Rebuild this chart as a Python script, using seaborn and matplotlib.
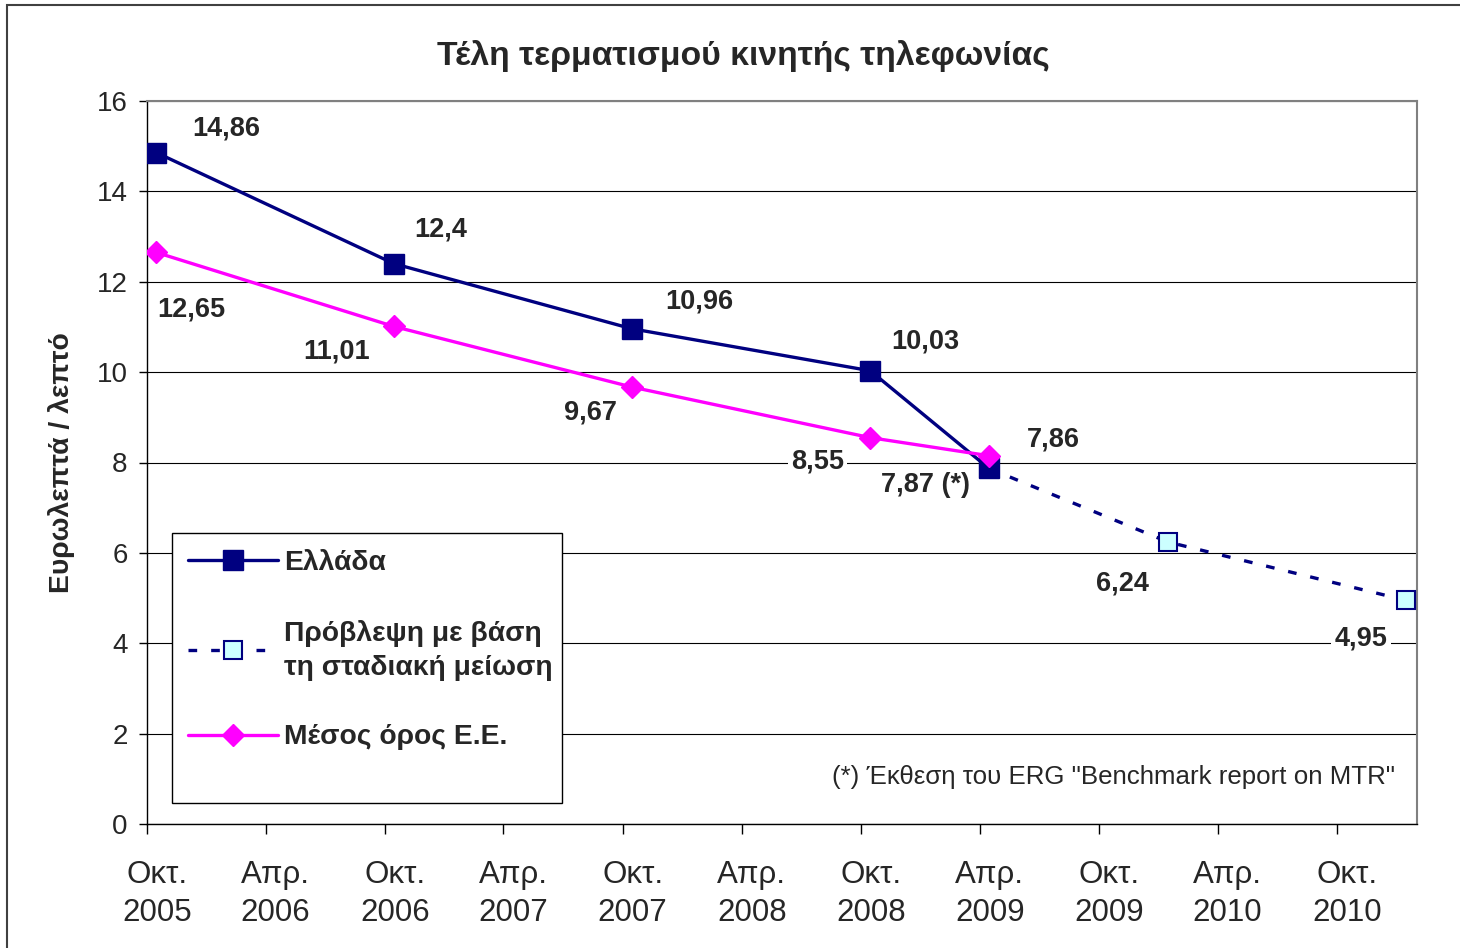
import pandas as pd
import matplotlib
matplotlib.use("Agg")
import matplotlib.pyplot as plt
import matplotlib.dates as mdates
from matplotlib.patches import Rectangle
from matplotlib.transforms import ScaledTranslation
import seaborn as sns

TITLE = "Τέλη τερματισμού κινητής τηλεφωνίας"
Y_LABEL = "Ευρωλεπτά / λεπτό"
NOTE = '(*) Έκθεση του ERG "Benchmark report on MTR"'

# Greece (actual)
GR_NAME = "Ελλάδα"
GR_DATES = ["2005-10-15", "2006-10-15", "2007-10-15", "2008-10-15", "2009-04-15"]
GR_VALUES = [14.86, 12.40, 10.96, 10.03, 7.87]
GR_LABELS = ["14,86", "12,4", "10,96", "10,03", "7,87 (*)"]

# forecast (glide path)
FC_NAME = "Πρόβλεψη με βάση\nτη σταδιακή μείωση"
FC_DATES = ["2009-04-15", "2010-01-15", "2011-01-15"]
FC_VALUES = [7.87, 6.24, 4.95]
FC_LABELS = ["", "6,24", "4,95"]

# EU average
EU_NAME = "Μέσος όρος Ε.Ε."
EU_DATES = ["2005-10-15", "2006-10-15", "2007-10-15", "2008-10-15", "2009-04-15"]
EU_VALUES = [12.65, 11.01, 9.67, 8.55, 8.15]
EU_LABELS = ["12,65", "11,01", "9,67", "8,55", "7,86"]

TICK_DATES = ["2005-10-01", "2006-04-01", "2006-10-01", "2007-04-01", "2007-10-01",
              "2008-04-01", "2008-10-01", "2009-04-01", "2009-10-01", "2010-04-01",
              "2010-10-01"]
TICK_LABELS = ["Οκτ.\n2005", "Απρ.\n2006", "Οκτ.\n2006", "Απρ.\n2007", "Οκτ.\n2007",
               "Απρ.\n2008", "Οκτ.\n2008", "Απρ.\n2009", "Οκτ.\n2009", "Απρ.\n2010",
               "Οκτ.\n2010"]

# label offsets in pixels from each point
GR_OFFSETS = [(70, 24), (47, 34), (68, 27), (55, 29), (-63, -17)]
FC_OFFSETS = [None, (-46, -41), (-45, -38)]
EU_OFFSETS = [(35, -57), (-57, -25), (-41, -25), (-53, -24), (64, 16)]

NAVY = "#000080"
MAGENTA = "#FF00FF"

sns.set_style("white")
plt.rcParams["font.family"] = ["Liberation Sans", "DejaVu Sans"]

gr = pd.DataFrame({"date": pd.to_datetime(GR_DATES), "value": GR_VALUES})
fc = pd.DataFrame({"date": pd.to_datetime(FC_DATES), "value": FC_VALUES})
eu = pd.DataFrame({"date": pd.to_datetime(EU_DATES), "value": EU_VALUES})

fig = plt.figure(figsize=(14.6, 9.48), dpi=100)
ax = fig.add_axes([147 / 1460, 124 / 948, 1270 / 1460, 723 / 948])

sns.lineplot(data=fc, x="date", y="value", ax=ax, color=NAVY, lw=2.4,
             linestyle=(0, (2.6, 4.2)), marker="s", markersize=13,
             markerfacecolor="#CCFFFF", markeredgecolor=NAVY, markeredgewidth=1.5,
             label=FC_NAME, zorder=3)
sns.lineplot(data=gr, x="date", y="value", ax=ax, color=NAVY, lw=2.4,
             marker="s", markersize=14, markerfacecolor=NAVY,
             markeredgecolor=NAVY, markeredgewidth=1, label=GR_NAME, zorder=4)
sns.lineplot(data=eu, x="date", y="value", ax=ax, color=MAGENTA, lw=2.4,
             marker="D", markersize=11.5, markerfacecolor=MAGENTA,
             markeredgecolor=MAGENTA, markeredgewidth=1, label=EU_NAME, zorder=5)

label_kw = dict(textcoords="offset pixels", ha="center", va="center",
                fontsize=19.5, fontweight="bold", zorder=6,
                bbox=dict(boxstyle="square,pad=0.12", fc="white", ec="none"))
for df, labels, offsets in [(gr, GR_LABELS, GR_OFFSETS), (fc, FC_LABELS, FC_OFFSETS),
                            (eu, EU_LABELS, EU_OFFSETS)]:
    for (d, v), txt, off in zip(df[["date", "value"]].values, labels, offsets):
        if not txt:
            continue
        ax.annotate(txt, (mdates.date2num(pd.Timestamp(d)), v), xytext=off, **label_kw)

ax.set_xlim(pd.Timestamp("2005-10-01"), pd.Timestamp("2011-02-01"))
ax.set_ylim(0, 16)
ax.set_yticks(range(0, 17, 2))
ax.set_xticks(pd.to_datetime(TICK_DATES))
ax.set_xticklabels(TICK_LABELS, fontsize=22.5, linespacing=1.35)
ax.tick_params(axis="y", labelsize=20, length=6, width=1, direction="out",
               pad=8, left=True, color="black")
ax.tick_params(axis="x", length=7, width=1, direction="out", pad=19,
               bottom=True, color="black")
for lab in ax.get_xticklabels():
    lab.set_transform(lab.get_transform() + ScaledTranslation(10 / 100, 0, fig.dpi_scale_trans))

ax.yaxis.grid(True, color="black", lw=0.8)
ax.xaxis.grid(False)
ax.set_axisbelow(True)
for side in ["left", "bottom"]:
    ax.spines[side].set_color("black")
    ax.spines[side].set_linewidth(1)
for side in ["top", "right"]:
    ax.spines[side].set_color("#808080")
    ax.spines[side].set_linewidth(1.5)

ax.set_xlabel("")
ax.set_ylabel(Y_LABEL, fontsize=20.3, fontweight="bold")
ax.yaxis.set_label_coords(-0.057, 0.5)

# legend box drawn over the gridlines
ax.add_patch(Rectangle((25 / 1270, 21 / 723), 390 / 1270, 270 / 723,
                       transform=ax.transAxes, fc="white", ec="black", lw=1, zorder=7))
handles, labels = ax.get_legend_handles_labels()
order = [labels.index(GR_NAME), labels.index(FC_NAME), labels.index(EU_NAME)]
leg = ax.legend([handles[i] for i in order], [labels[i] for i in order],
                loc="upper left", bbox_to_anchor=(41 / 1270, 274 / 723),
                frameon=False, borderaxespad=0, borderpad=0, handlelength=3.2,
                handletextpad=0.2, labelspacing=1.55, numpoints=1,
                prop=dict(size=20.3, weight="bold"))
for t in leg.get_texts():
    t.set_linespacing(1.4)
leg.set_zorder(8)

ax.text((1395 - 147) / 1270, 47 / 723, NOTE, transform=ax.transAxes,
        ha="right", va="center", fontsize=18.6, zorder=6)

fig.text(743 / 1460, 1 - 56 / 948, TITLE, ha="center", va="center",
         fontsize=24.3, fontweight="bold")

# outer chart border
fig.add_artist(Rectangle((7 / 1460, -0.1), 1.2, 1.1 - 5 / 948,
                         transform=fig.transFigure, fc="none", ec="#404040", lw=1.5))

fig.savefig("out.png", dpi=100)
